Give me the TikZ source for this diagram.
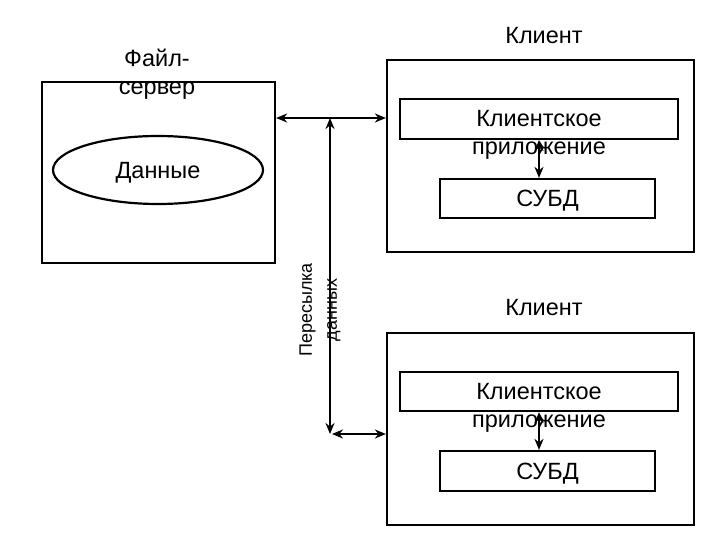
\documentclass[tikz,border=0pt]{standalone}
\usepackage{fontspec}
\setmainfont{Liberation Sans}
\usetikzlibrary{shapes.geometric,arrows.meta}
\begin{document}
\begin{tikzpicture}[x=1pt,y=-1pt,
  box/.style={draw,line width=2.2pt,inner sep=0pt},
  lbl/.style={font=\fontsize{23.5}{28}\selectfont,align=center,inner sep=0pt},
  con/.style={line width=2.2pt,{Stealth[length=11pt,width=9pt]}-{Stealth[length=11pt,width=9pt]}}]
\useasboundingbox (0,0) rectangle (720,540);
% server
\node[box,minimum width=233pt,minimum height=181pt] (srv) at (158.5,172.5) {};
\node[box,ellipse,minimum width=210pt,minimum height=68pt] (data) at (158,170) {};
\node[lbl] at (158,173) {Данные};
\node[lbl] (srvlbl) at (157,74) {Файл-\\сервер};
% client 1
\node[box,minimum width=307pt,minimum height=192pt] (c1) at (540.5,156) {};
\node[lbl] at (544,36) {Клиент};
\node[box,minimum width=278pt,minimum height=40pt] (app1) at (539,119) {};
\node[lbl] at (539,135) {Клиентское\\приложение};
\node[box,minimum width=215pt,minimum height=39pt] (db1) at (547.5,198.5) {};
\node[lbl] at (547.5,201) {СУБД};
% client 2
\node[box,minimum width=307pt,minimum height=192pt] (c2) at (540.5,429) {};
\node[lbl] at (544,308) {Клиент};
\node[box,minimum width=278pt,minimum height=39pt] (app2) at (539,391.5) {};
\node[lbl] at (539,408) {Клиентское\\приложение};
\node[box,minimum width=215pt,minimum height=40pt] (db2) at (547.5,471) {};
\node[lbl] at (547.5,474) {СУБД};
% inner arrows
\draw[con] (app1.south -| 539,0) -- (db1.north -| 539,0);
\draw[con] (app2.south -| 539,0) -- (db2.north -| 539,0);
% transfer
\coordinate (top) at (330,118);
\coordinate (bot) at (330,434);
\coordinate (botr) at (332,434);
\draw[con] (srv.east |- top) -- (c1.west |- top);
\draw[con] (top) -- (bot);
\draw[con] (botr) -- (c2.west |- botr);
\node[lbl,rotate=90,font=\fontsize{18}{25}\selectfont] at (320,310) {Пересылка\\данных};
\end{tikzpicture}
\end{document}
